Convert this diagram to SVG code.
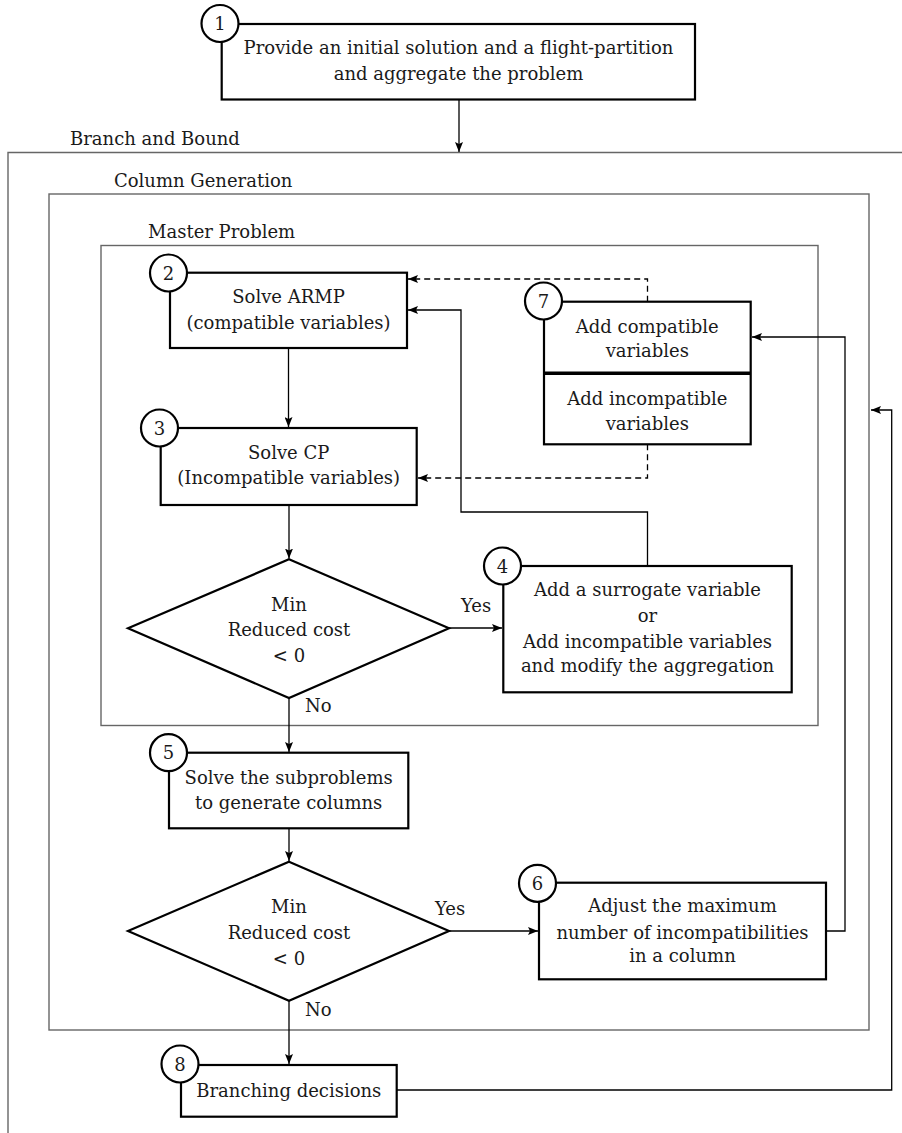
<svg xmlns="http://www.w3.org/2000/svg" width="902" height="1133" viewBox="0 0 902 1133">
<style>
text{font-family:"DejaVu Serif","Liberation Serif",serif;font-size:18px;fill:#1a1a1a}
.c{text-anchor:middle}
.box{fill:#fff;stroke:#000;stroke-width:2.2}
.circ{fill:#fff;stroke:#000;stroke-width:2.2}
.frame{fill:none;stroke:#666;stroke-width:1.4}
.ln{fill:none;stroke:#000;stroke-width:1.3}
.dash{fill:none;stroke:#000;stroke-width:1.3;stroke-dasharray:6 4}
</style>
<defs>
<marker id="ah" viewBox="0 0 10 8" refX="10" refY="4" markerWidth="10" markerHeight="8" markerUnits="userSpaceOnUse" orient="auto">
<path d="M0,0 L10,4 L0,8 L2,4 Z" fill="#000"/>
</marker>
</defs>

<g id="frames">
<path class="frame" d="M8,1133 V152.5 H902"/>
<text x="70" y="145">Branch and Bound</text>
<rect class="frame" x="49" y="194" width="820" height="836"/>
<text x="114" y="187">Column Generation</text>
<rect class="frame" x="101" y="245.5" width="717" height="480"/>
<text x="148" y="238">Master Problem</text>
</g>

<g id="connectors">
<line class="ln" x1="459" y1="100" x2="459" y2="152" marker-end="url(#ah)"/>
<line class="ln" x1="288.5" y1="348" x2="288.5" y2="427" marker-end="url(#ah)"/>
<line class="ln" x1="289" y1="505" x2="289" y2="558.5" marker-end="url(#ah)"/>
<line class="ln" x1="449" y1="628" x2="502" y2="628" marker-end="url(#ah)"/>
<text x="461" y="612">Yes</text>
<line class="ln" x1="289" y1="698" x2="289" y2="752" marker-end="url(#ah)"/>
<text x="305" y="712">No</text>
<line class="ln" x1="289" y1="828.3" x2="289" y2="861" marker-end="url(#ah)"/>
<line class="ln" x1="449" y1="931" x2="538" y2="931" marker-end="url(#ah)"/>
<text x="435" y="915">Yes</text>
<line class="ln" x1="289" y1="1001" x2="289" y2="1064" marker-end="url(#ah)"/>
<text x="305" y="1016">No</text>
<path class="ln" d="M647.5,566 V512 H461 V310 H408" marker-end="url(#ah)"/>
<path class="dash" d="M647.5,301.7 V279 H408" marker-end="url(#ah)"/>
<path class="dash" d="M647.5,444.3 V478 H418" marker-end="url(#ah)"/>
<path class="ln" d="M826,931 H845 V337 H752" marker-end="url(#ah)"/>
<path class="ln" d="M396.7,1090 H891.7 V410 H871" marker-end="url(#ah)"/>
</g>

<g id="n1">
<rect class="box" x="221.7" y="24" width="473.3" height="75.5"/>
<circle class="circ" cx="220" cy="23.5" r="18.5"/>
<text class="c" x="220" y="30">1</text>
<text class="c" x="458.5" y="54">Provide an initial solution and a flight-partition</text>
<text class="c" x="458.5" y="80">and aggregate the problem</text>
</g>

<g id="n2">
<rect class="box" x="170" y="272.7" width="237" height="75.3"/>
<circle class="circ" cx="168.5" cy="273" r="18.5"/>
<text class="c" x="168.5" y="279.5">2</text>
<text class="c" x="288.5" y="303">Solve ARMP</text>
<text class="c" x="288.5" y="328.5">(compatible variables)</text>
</g>

<g id="n3">
<rect class="box" x="160.7" y="428" width="256" height="77"/>
<circle class="circ" cx="159.5" cy="428" r="18.5"/>
<text class="c" x="159.5" y="434.5">3</text>
<text class="c" x="288.7" y="458.5">Solve CP</text>
<text class="c" x="288.7" y="484">(Incompatible variables)</text>
</g>

<g id="d1">
<polygon class="box" points="289,559.3 449,628.3 289,698 128,628.3"/>
<text class="c" x="289" y="610.5">Min</text>
<text class="c" x="289" y="636">Reduced cost</text>
<text class="c" x="289" y="662">&lt; 0</text>
</g>

<g id="n4">
<rect class="box" x="503.3" y="566" width="288.4" height="126.3"/>
<circle class="circ" cx="502.5" cy="566" r="18.5"/>
<text class="c" x="502.5" y="572.5">4</text>
<text class="c" x="647.5" y="595.5">Add a surrogate variable</text>
<text class="c" x="647.5" y="621.5">or</text>
<text class="c" x="647.5" y="647.5">Add incompatible variables</text>
<text class="c" x="647.5" y="672">and modify the aggregation</text>
</g>

<g id="n7">
<rect class="box" x="544" y="301.7" width="206.7" height="142.6"/>
<line x1="544" y1="373.3" x2="750.7" y2="373.3" stroke="#000" stroke-width="3.6"/>
<circle class="circ" cx="543.5" cy="301" r="18.5"/>
<text class="c" x="543.5" y="307.5">7</text>
<text class="c" x="647.3" y="332.5">Add compatible</text>
<text class="c" x="647.3" y="357">variables</text>
<text class="c" x="647.3" y="404.5">Add incompatible</text>
<text class="c" x="647.3" y="429.5">variables</text>
</g>

<g id="n5">
<rect class="box" x="169" y="752.7" width="239.3" height="75.6"/>
<circle class="circ" cx="168.5" cy="752.7" r="18.5"/>
<text class="c" x="168.5" y="759.2">5</text>
<text class="c" x="288.7" y="783.5">Solve the subproblems</text>
<text class="c" x="288.7" y="808.5">to generate columns</text>
</g>

<g id="d2">
<polygon class="box" points="289,861.7 449,931 289,1000.7 128,931"/>
<text class="c" x="289" y="913">Min</text>
<text class="c" x="289" y="939">Reduced cost</text>
<text class="c" x="289" y="964.5">&lt; 0</text>
</g>

<g id="n6">
<rect class="box" x="539" y="882.7" width="287" height="96.6"/>
<circle class="circ" cx="537.5" cy="883.3" r="18.5"/>
<text class="c" x="537.5" y="889.8">6</text>
<text class="c" x="682.5" y="912">Adjust the maximum</text>
<text class="c" x="682.5" y="938.5">number of incompatibilities</text>
<text class="c" x="682.5" y="962">in a column</text>
</g>

<g id="n8">
<rect class="box" x="181" y="1065" width="215.7" height="51.7"/>
<circle class="circ" cx="180" cy="1064" r="18.5"/>
<text class="c" x="180" y="1070.5">8</text>
<text class="c" x="288.8" y="1097">Branching decisions</text>
</g>
</svg>
